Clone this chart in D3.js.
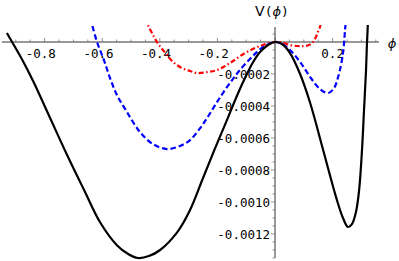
<!DOCTYPE html>
<html>
<head>
<meta charset="utf-8">
<script src="https://cdn.jsdelivr.net/npm/d3@7"></script>
<style>
  body { margin: 0; background: #fff; }
  svg { display: block; }
  .tick-label { font-family: "DejaVu Sans Mono", monospace; font-size: 12.5px; fill: #000; }
</style>
</head>
<body>
<div id="chart"></div>
<script>
// values
var blackPhi = [-0.931, -0.913, -0.875, -0.840, -0.781, -0.722, -0.663, -0.608, -0.549, -0.510, -0.476, -0.438, -0.399, -0.340, -0.295, -0.250, -0.208, -0.167, -0.128, -0.101, -0.076, -0.052, -0.024, 0, 0.024, 0.052, 0.087, 0.122, 0.167, 0.215, 0.236, 0.253, 0.267, 0.281, 0.292, 0.302, 0.309, 0.316, 0.319, 0.323];
var blackV = [0.000056, 0, -0.00012, -0.000244, -0.000475, -0.000706, -0.000925, -0.001125, -0.00127, -0.001325, -0.00135, -0.001338, -0.0013, -0.00119, -0.00105, -0.00085, -0.000663, -0.000488, -0.000319, -0.000213, -0.000125, -0.0000625, -0.0000188, 0, -0.0000125, -0.000069, -0.0002, -0.000381, -0.000675, -0.000988, -0.0011, -0.001156, -0.001138, -0.001063, -0.000925, -0.000675, -0.000425, -0.000175, -0.00002, 0.000138];

var bluePhi = [-0.642, -0.635, -0.618, -0.594, -0.573, -0.549, -0.514, -0.469, -0.424, -0.375, -0.330, -0.295, -0.260, -0.236, -0.208, -0.181, -0.149, -0.122, -0.087, -0.059, -0.035, 0, 0.024, 0.052, 0.087, 0.122, 0.156, 0.184, 0.205, 0.219, 0.229, 0.236, 0.240, 0.243, 0.247];
var blueV = [0.00015, 0.000106, 0, -0.000113, -0.000225, -0.000331, -0.000438, -0.000563, -0.000638, -0.000669, -0.00065, -0.000613, -0.000538, -0.000475, -0.000394, -0.000319, -0.000238, -0.000175, -0.000106, -0.000056, -0.000025, 0, -0.0000125, -0.00005, -0.000125, -0.000219, -0.000294, -0.000319, -0.000288, -0.000219, -0.000144, -0.000069, 0, 0.000075, 0.00015];

var redPhi = [-0.448, -0.441, -0.427, -0.410, -0.392, -0.375, -0.354, -0.323, -0.295, -0.271, -0.236, -0.201, -0.156, -0.104, -0.052, 0, 0.024, 0.052, 0.080, 0.101, 0.118, 0.132, 0.142, 0.149, 0.156, 0.160];
var redV = [0.00015, 0.000106, 0.000056, 0, -0.000044, -0.000081, -0.000125, -0.000163, -0.000181, -0.000194, -0.000188, -0.000175, -0.000131, -0.000069, -0.000025, 0, -0.000003, -0.000019, -0.000025, -0.000025, -0.000019, 0, 0.000031, 0.000063, 0.000094, 0.000138];

var xTickVals = [-0.8, -0.6, -0.4, -0.2, 0.2];
var xTickText = ["-0.8", "-0.6", "-0.4", "-0.2", "0.2"];
var yTickVals = [-0.0002, -0.0004, -0.0006, -0.0008, -0.0010, -0.0012];
var yTickText = ["-0.0002", "-0.0004", "-0.0006", "-0.0008", "-0.0010", "-0.0012"];

var width = 399, height = 261;

var svg = d3.select("#chart").append("svg")
    .attr("width", width)
    .attr("height", height);

// scales
var x = d3.scaleLinear().domain([-0.948, 0.361]).range([2, 379]);
var y = d3.scaleLinear().domain([-0.00135, 0.0001]).range([258, 26]);

var x0 = x(0), y0 = y(0);

svg.append("clipPath").attr("id", "plotclip")
  .append("rect")
    .attr("x", 0).attr("y", y(0.000106))
    .attr("width", width).attr("height", height);

// x axis: ticks above the line, labels below
var xAxis = svg.append("g").attr("class", "x-axis");
xAxis.append("line")
    .attr("x1", 2).attr("x2", 379)
    .attr("y1", y0).attr("y2", y0)
    .attr("stroke", "#333").attr("stroke-width", 1);

d3.range(-0.9, 0.36, 0.05).forEach(function(t) {
    var major = Math.abs(Math.round(t * 100) % 20) === 0;
    xAxis.append("line")
        .attr("x1", x(t)).attr("x2", x(t))
        .attr("y1", y0).attr("y2", y0 - (major ? 4 : 2.5))
        .attr("stroke", "#777").attr("stroke-width", 0.8);
});

var cw = 12.5 * 0.602;
xTickVals.forEach(function(t, i) {
    var neg = t < 0;
    xAxis.append("text")
        .attr("class", "tick-label")
        .attr("x", neg ? x(t) + 1.5 * cw : x(t))
        .attr("y", y0 + 16)
        .attr("text-anchor", neg ? "end" : "middle")
        .text(xTickText[i]);
});

// y axis: ticks to the left, labels left of the line
var yAxis = svg.append("g").attr("class", "y-axis");
yAxis.append("line")
    .attr("x1", x0).attr("x2", x0)
    .attr("y1", 27).attr("y2", 258)
    .attr("stroke", "#333").attr("stroke-width", 1);

d3.range(0.00005, -0.00136, -0.00005).forEach(function(t) {
    var major = Math.abs(Math.round(t * 100000) % 20) === 0;
    yAxis.append("line")
        .attr("x1", x0).attr("x2", x0 - (major ? 4 : 2.5))
        .attr("y1", y(t)).attr("y2", y(t))
        .attr("stroke", "#777").attr("stroke-width", 0.8);
});

yTickVals.forEach(function(t, i) {
    yAxis.append("text")
        .attr("class", "tick-label")
        .attr("x", x0 - 5)
        .attr("y", y(t) + 1)
        .attr("dy", "0.35em")
        .attr("text-anchor", "end")
        .text(yTickText[i]);
});

// axis titles
var yTitle = svg.append("text")
    .attr("x", 272).attr("y", 16)
    .attr("text-anchor", "middle")
    .style("font-family", "DejaVu Sans, sans-serif")
    .style("font-size", "13px");
yTitle.append("tspan").style("font-size", "14px").text("V");
yTitle.append("tspan").style("font-family", "DejaVu Sans Mono, monospace").text("(");
yTitle.append("tspan").style("font-style", "italic").text("\u03D5");
yTitle.append("tspan").style("font-family", "DejaVu Sans Mono, monospace").text(")");

svg.append("text")
    .attr("x", 392).attr("y", 48)
    .attr("text-anchor", "middle")
    .style("font-family", "DejaVu Sans, sans-serif")
    .style("font-style", "italic")
    .style("font-size", "13px")
    .text("\u03D5");

// curves
var line = d3.line()
    .x(function(d) { return x(d[0]); })
    .y(function(d) { return y(d[1]); })
    .curve(d3.curveCatmullRom.alpha(0.5));

var plot = svg.append("g").attr("clip-path", "url(#plotclip)");

plot.append("path")
    .datum(d3.zip(redPhi, redV))
    .attr("d", line)
    .attr("fill", "none")
    .attr("stroke", "#ff0000")
    .attr("stroke-width", 2.2)
    .attr("stroke-dasharray", "5,2.5,1.5,2.5");

plot.append("path")
    .datum(d3.zip(bluePhi, blueV))
    .attr("d", line)
    .attr("fill", "none")
    .attr("stroke", "#0000ff")
    .attr("stroke-width", 2.2)
    .attr("stroke-dasharray", "5.5,3");

plot.append("path")
    .datum(d3.zip(blackPhi, blackV))
    .attr("d", line)
    .attr("fill", "none")
    .attr("stroke", "#000")
    .attr("stroke-width", 2.2);
</script>
</body>
</html>
